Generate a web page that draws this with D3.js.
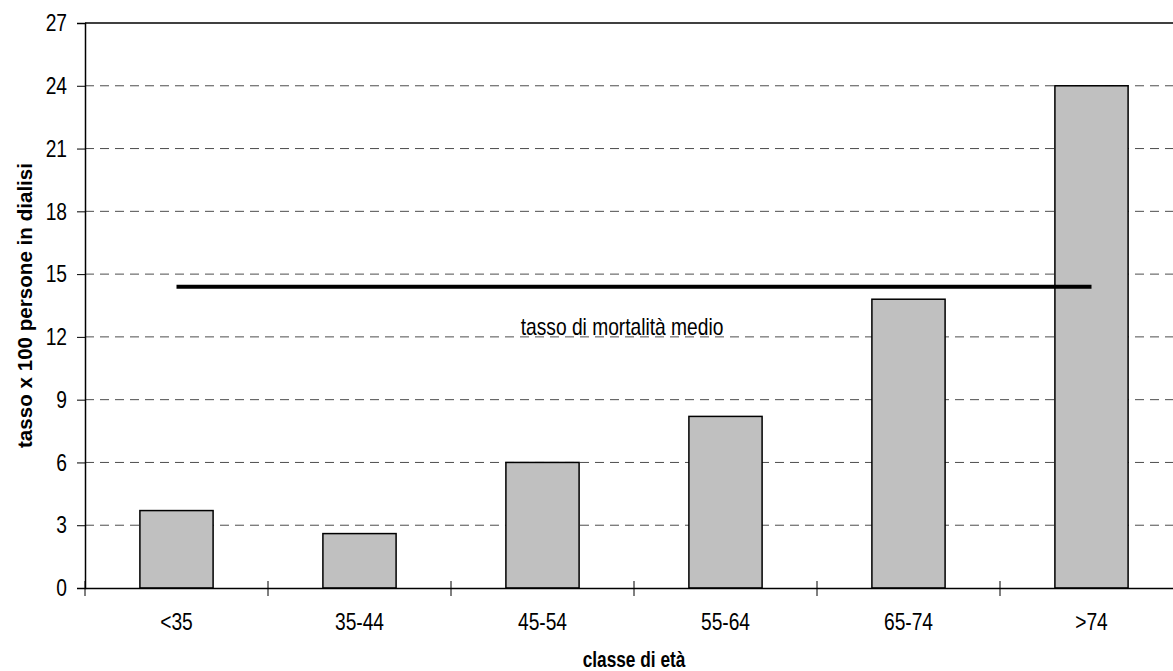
<!DOCTYPE html>
<html><head><meta charset="utf-8">
<script src="https://cdn.jsdelivr.net/npm/d3@7"></script>
<style>
body{margin:0;background:#fff;}
text{font-family:"Liberation Sans",Arial,sans-serif;fill:#000;}
</style></head>
<body><svg id="c" width="1173" height="671"></svg>
<script>
const categories = ["<35","35-44","45-54","55-64","65-74",">74"];
const values = [3.7, 2.6, 6.0, 8.2, 13.8, 24.0];
const meanRate = 14.4;
const yTicks = [0,3,6,9,12,15,18,21,24,27];
const yTitle = "tasso x 100 persone in dialisi";
const xTitle = "classe di età";
const meanLabel = "tasso di mortalità medio";

const svg = d3.select("#c");
const L = 85, R = 1183, T = 23, B = 588;
const SX = 0.8;           // horizontal condensation of the lettering
const FS = 24, FT = 20.6; // font sizes: labels, titles
const x = d3.scaleBand().domain(categories).range([L, R]).paddingInner(0).paddingOuter(0);
const y = d3.scaleLinear().domain([0, 27]).range([B, T]);
const bw = x.bandwidth() * 0.4;

// grid
svg.append("g").selectAll("line").data(yTicks.filter(d => d > 0 && d < 27)).join("line")
  .attr("x1", L).attr("x2", R).attr("y1", d => y(d)).attr("y2", d => y(d))
  .attr("stroke", "#4d4d4d").attr("stroke-width", 1).attr("stroke-dasharray", "9,6");

// top border
svg.append("line").attr("x1", L).attr("x2", R).attr("y1", y(27)).attr("y2", y(27))
  .attr("stroke", "#000").attr("stroke-width", 1.5);

// bars
svg.append("g").selectAll("rect").data(values).join("rect")
  .attr("x", (d, i) => x(categories[i]) + (x.bandwidth() - bw) / 2)
  .attr("width", bw)
  .attr("y", d => y(d)).attr("height", d => y(0) - y(d))
  .attr("fill", "#c0c0c0").attr("stroke", "#000").attr("stroke-width", 1.5);

// y axis
const ya = svg.append("g").attr("transform", `translate(${L},0)`)
  .call(d3.axisLeft(y).tickValues(yTicks).tickSize(8).tickPadding(10));
ya.select(".domain").attr("stroke", "#000").attr("stroke-width", 1.5);
ya.selectAll(".tick line").attr("stroke", "#000").attr("stroke-width", 1);
ya.selectAll("text").style("font-size", FS + "px").attr("font-family", null)
  .attr("x", -18 / SX).attr("transform", `scale(${SX},1)`);

// x axis
const xa = svg.append("g").attr("transform", `translate(0,${B})`)
  .call(d3.axisBottom(x).tickSize(0).tickPadding(25));
xa.select(".domain").attr("stroke", "#000").attr("stroke-width", 1.5);
xa.selectAll("text").style("font-size", FS + "px").attr("font-family", null)
  .attr("transform", `scale(${SX},1)`);
const bounds = categories.map(c => x(c)).concat([R]);
svg.append("g").selectAll("line").data(bounds).join("line")
  .attr("x1", d => d).attr("x2", d => d).attr("y1", B - 7).attr("y2", B + 8)
  .attr("stroke", "#000").attr("stroke-width", 1);

// mean line
const c0 = x(categories[0]) + x.bandwidth() / 2;
const c1 = x(categories[categories.length - 1]) + x.bandwidth() / 2;
svg.append("line").attr("x1", c0).attr("x2", c1).attr("y1", y(meanRate)).attr("y2", y(meanRate))
  .attr("stroke", "#000").attr("stroke-width", 4);
svg.append("text").attr("transform", `translate(622,${y(meanRate) + 48}) scale(${SX},1)`)
  .attr("text-anchor", "middle").style("font-size", FS + "px").text(meanLabel);

// titles
svg.append("text").attr("transform", `translate(32,${(T + B) / 2}) rotate(-90)`)
  .attr("text-anchor", "middle").style("font-size", FT + "px").style("font-weight", "bold").text(yTitle);
svg.append("text").attr("transform", `translate(${(L + R) / 2},667) scale(${SX},1)`)
  .attr("text-anchor", "middle").style("font-size", (FT + 1) + "px").style("font-weight", "bold").text(xTitle);
</script></body></html>
